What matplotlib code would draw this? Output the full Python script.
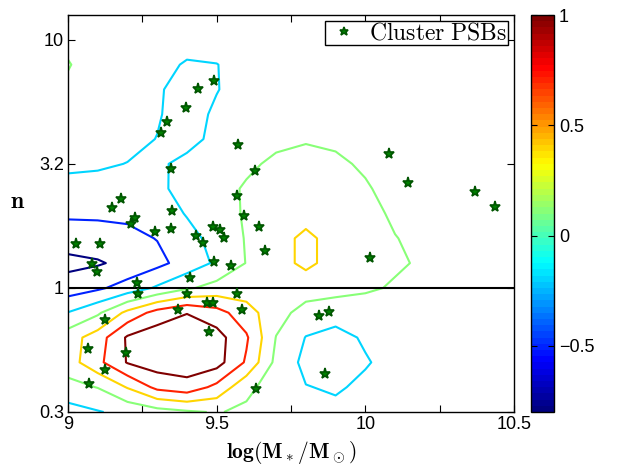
import numpy as np
import matplotlib
matplotlib.use("Agg")
import matplotlib.pyplot as plt
from matplotlib.colors import Normalize, LinearSegmentedColormap
from matplotlib.cm import ScalarMappable

# grid of the smoothed difference map
x_grid = [9.0, 9.1, 9.2, 9.3, 9.4, 9.5, 9.6, 9.7, 9.8, 9.9, 10.0, 10.1, 10.2, 10.3, 10.4, 10.5]
logn_grid = [-0.5, -0.4, -0.3, -0.2, -0.1, 0.0, 0.1, 0.2, 0.3, 0.4, 0.5, 0.6, 0.7, 0.8, 0.9, 1.0, 1.1]
z_grid = [
    [-0.32, -0.22, -0.12, -0.02, 0.06, 0.12, 0.04, -0.05, -0.12, -0.14, -0.12, -0.08, -0.05, -0.03, -0.02, -0.02],
    [0.00, 0.11, 0.42, 0.78, 0.88, 0.62, 0.18, -0.05, -0.19, -0.23, -0.15, -0.08, -0.05, -0.03, -0.02, -0.02],
    [0.26, 0.62, 1.02, 1.15, 1.18, 1.12, 0.66, 0.02, -0.28, -0.33, -0.22, -0.12, -0.06, -0.04, -0.03, -0.03],
    [0.26, 0.55, 1.04, 1.18, 1.20, 1.12, 0.74, 0.09, -0.21, -0.28, -0.17, -0.10, -0.06, -0.04, -0.03, -0.03],
    [-0.19, 0.05, 0.48, 0.82, 0.99, 0.82, 0.52, 0.22, -0.02, -0.10, -0.12, -0.08, -0.05, -0.03, -0.02, -0.02],
    [-0.66, -0.55, -0.38, -0.16, 0.06, 0.20, 0.25, 0.25, 0.25, 0.22, 0.16, 0.06, 0.00, -0.02, -0.02, -0.02],
    [-0.88, -0.83, -0.72, -0.58, -0.38, -0.15, 0.11, 0.30, 0.46, 0.30, 0.25, 0.15, 0.05, 0.00, -0.01, -0.02],
    [-0.66, -0.63, -0.58, -0.49, -0.30, -0.10, 0.12, 0.30, 0.46, 0.30, 0.22, 0.11, 0.02, -0.02, -0.03, -0.03],
    [-0.45, -0.45, -0.44, -0.36, -0.18, -0.02, 0.13, 0.25, 0.30, 0.28, 0.20, 0.05, -0.02, -0.04, -0.04, -0.04],
    [-0.28, -0.28, -0.30, -0.26, -0.10, 0.00, 0.13, 0.22, 0.24, 0.22, 0.13, 0.00, -0.05, -0.05, -0.05, -0.05],
    [-0.15, -0.17, -0.205, -0.25, -0.12, -0.02, 0.05, 0.15, 0.18, 0.15, 0.06, -0.03, -0.06, -0.06, -0.06, -0.06],
    [-0.08, -0.10, -0.14, -0.205, -0.30, -0.12, -0.02, 0.04, 0.08, 0.05, 0.00, -0.04, -0.06, -0.07, -0.07, -0.07],
    [-0.02, -0.06, -0.10, -0.18, -0.30, -0.16, -0.06, -0.02, 0.00, -0.01, -0.04, -0.06, -0.07, -0.08, -0.08, -0.08],
    [0.07, -0.02, -0.08, -0.17, -0.30, -0.21, -0.10, -0.05, -0.03, -0.04, -0.06, -0.07, -0.08, -0.08, -0.08, -0.08],
    [0.11, 0.02, -0.03, -0.12, -0.225, -0.205, -0.12, -0.07, -0.05, -0.05, -0.06, -0.07, -0.08, -0.08, -0.08, -0.08],
    [0.06, 0.01, -0.03, -0.07, -0.10, -0.10, -0.08, -0.06, -0.05, -0.05, -0.06, -0.07, -0.07, -0.08, -0.08, -0.08],
    [0.04, 0.01, -0.02, -0.05, -0.07, -0.07, -0.06, -0.05, -0.05, -0.05, -0.05, -0.06, -0.06, -0.07, -0.07, -0.07],
]
levels = [-0.8, -0.5, -0.2, 0.1, 0.4, 0.7, 1.0]

# cluster post-starburst galaxies: log stellar mass, log10(n)
psb_mass = [9.492, 9.438, 9.396, 9.332, 9.313, 9.571, 10.081, 9.346, 9.630, 9.177,
            9.148, 9.567, 9.226, 9.211, 9.350, 9.593, 9.294, 9.345, 9.487, 9.511,
            9.524, 9.642, 9.430, 9.453, 9.026, 9.109, 9.664, 9.082, 9.098, 9.490,
            9.548, 9.410, 9.232, 10.016, 10.142, 10.369, 10.435, 9.234, 9.400, 9.568,
            9.467, 9.489, 9.370, 9.585, 9.125, 9.474, 9.066, 9.194, 9.124, 9.071,
            9.632, 9.843, 9.879, 9.864]
psb_logn = [0.832, 0.800, 0.726, 0.669, 0.624, 0.577, 0.540, 0.480, 0.472, 0.360,
            0.324, 0.370, 0.283, 0.259, 0.309, 0.288, 0.227, 0.237, 0.245, 0.234,
            0.202, 0.245, 0.210, 0.181, 0.176, 0.176, 0.149, 0.097, 0.063, 0.104,
            0.090, 0.039, 0.020, 0.122, 0.423, 0.388, 0.328, -0.025, -0.025, -0.023,
            -0.062, -0.060, -0.089, -0.087, -0.129, -0.176, -0.245, -0.263, -0.331, -0.388,
            -0.407, -0.112, -0.096, -0.348]

xticks = [9, 9.25, 9.5, 9.75, 10, 10.25, 10.5]
xticklabels = ["9", "", "9.5", "", "10", "", "10.5"]
yticks = [-0.5, 0, 0.5, 1]
yticklabels = ["0.3", "1", "3.2", "10"]
cbticks = [-0.5, 0, 0.5, 1]
cbticklabels = ["\u22120.5", "0", "0.5", "1"]

plt.rcParams["mathtext.fontset"] = "cm"
plt.rcParams["font.family"] = "Liberation Sans"

# matlab style jet, 64 steps
jet = LinearSegmentedColormap("mjet", {
    "red": [(0, 0, 0), (0.375, 0, 0), (0.625, 1, 1), (0.875, 1, 1), (1, 0.5, 0.5)],
    "green": [(0, 0, 0), (0.125, 0, 0), (0.375, 1, 1), (0.625, 1, 1), (0.875, 0, 0), (1, 0, 0)],
    "blue": [(0, 0.5, 0.5), (0.125, 1, 1), (0.375, 1, 1), (0.625, 0, 0), (1, 0, 0)],
}, N=64)
norm = Normalize(-0.8, 1.0)

fig = plt.figure(figsize=(6.2, 4.68), dpi=100)
ax = fig.add_axes([68 / 620, 1 - 412 / 468, 446 / 620, 397 / 468])
cax = fig.add_axes([531 / 620, 1 - 412 / 468, 23 / 620, 397 / 468])

ax.contour(x_grid, logn_grid, np.array(z_grid), levels=levels, cmap=jet, norm=norm, linewidths=1.5)
ax.axhline(0, color="k", lw=1.5)
ax.plot(psb_mass, psb_logn, "*", ms=8, mfc="#008000", mec="#005500", mew=1.2,
        label=r"$\mathrm{Cluster\ PSBs}$")

ax.set_xlim(9, 10.5)
ax.set_ylim(-0.5, 1.1)
ax.set_xticks(xticks)
ax.set_xticklabels(xticklabels)
ax.set_yticks(yticks)
ax.set_yticklabels(yticklabels)
ax.tick_params(direction="in", top=True, right=True, length=5, labelsize=13, pad=3)
for s in ax.spines.values():
    s.set_linewidth(1.0)

ax.set_xlabel(r"$\mathbf{log(M_*/M_\odot)}$", fontsize=15.5)
ax.xaxis.set_label_coords(0.5, -0.068)
ax.set_ylabel(r"$\mathbf{n}$", fontsize=17, rotation=0)
ax.yaxis.set_label_coords(-0.112, 0.5)

leg = ax.legend(loc="upper right", fontsize=17, fancybox=False, framealpha=1,
                edgecolor="k", borderpad=0.05, handlelength=1.5, handletextpad=0.3,
                borderaxespad=0.25, markerscale=0.8)
leg.get_frame().set_linewidth(1.0)

cb = fig.colorbar(ScalarMappable(norm=norm, cmap=jet), cax=cax)
cb.set_ticks(cbticks)
cb.set_ticklabels(cbticklabels)
cax.tick_params(direction="in", left=True, right=True, length=4, labelsize=13)
cb.outline.set_linewidth(1.0)

fig.savefig("out.png", dpi=100)
